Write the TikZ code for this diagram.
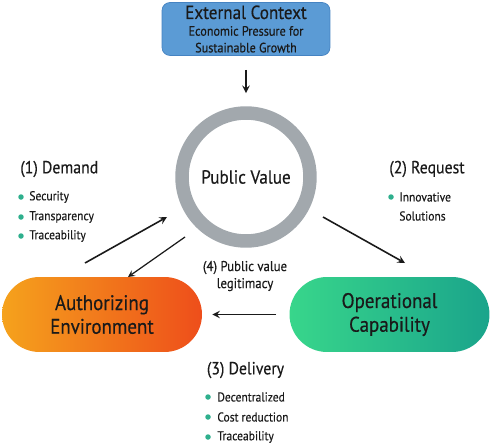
\documentclass[tikz,border=0pt]{standalone}
\usepackage{fontspec}
\setmainfont{PT Sans}[FakeStretch=0.9, FakeBold=0.4]

\definecolor{ctxblue}{HTML}{5B9BD5}
\definecolor{ctxedge}{HTML}{4583C2}
\definecolor{ringgray}{HTML}{A2A8AD}
\definecolor{authleft}{HTML}{F5A21C}
\definecolor{authright}{HTML}{EE4E1B}
\definecolor{opsleft}{HTML}{38D68B}
\definecolor{opsright}{HTML}{1AA48B}
\definecolor{dotgreen}{HTML}{2EAF8D}
\definecolor{ink}{HTML}{1A1A1A}

\tikzset{
  pill/.style={minimum width=4cm, minimum height=1.5cm, rounded corners=0.75cm,
    align=center, text=ink, font=\fontsize{12}{13.5}\selectfont},
  flow/.style={line width=0.9pt, ink, ->, >=stealth},
  head/.style={anchor=west, text=ink, inner sep=0pt, font=\fontsize{10}{12}\selectfont},
  item/.style={anchor=west, text=ink, inner sep=0pt, font=\fontsize{7.3}{9}\selectfont},
}

\begin{document}
\begin{tikzpicture}[x=0.02cm, y=-0.02cm]

\useasboundingbox (0,0) rectangle (500,446);

% top box
\node[fill=ctxblue, draw=ctxedge, rounded corners=0.16cm, minimum width=3.36cm,
      minimum height=1.06cm, align=center, text=ink, inner sep=0pt] (ctx) at (246,29)
  {{\fontsize{10.8}{12}\selectfont External Context}\\[-2.5pt]
   {\fontsize{7.7}{9}\selectfont Economic Pressure for}\\[-2.5pt]
   {\fontsize{7.7}{9}\selectfont Sustainable Growth}};

% ring
\node[circle, draw=ringgray, line width=0.27cm, minimum size=2.56cm, text=ink,
      font=\fontsize{10.8}{13}\selectfont] (pv) at (246,177) {Public Value};

% the two pills
\node[pill, left color=authleft, right color=authright] (auth) at (102,314.5)
  {Authorizing\\Environment};
\node[pill, left color=opsleft, right color=opsright] (ops) at (389.5,314.5)
  {Operational\\Capability};

% arrows
\coordinate (a1) at (85,263);
\coordinate (a2) at (167,217);
\coordinate (b1) at (185,237);
\coordinate (b2) at (128,277);
\coordinate (c1) at (323,217);
\coordinate (c2) at (405,263);

\draw[flow, shorten <=8pt, shorten >=7.5pt] (ctx) -- (pv);
\draw[flow] (a1) -- (a2);
\draw[flow, line width=0.7pt] (b1) -- (b2);
\draw[flow] (c1) -- (c2);
\draw[flow, shorten <=7.4pt, shorten >=5.7pt] (ops) -- (auth);

% labels
\node[head] (demand) at (20,169) {(1) Demand};
\node[head] (request) at (389,169) {(2) Request};
\node[head, anchor=center] (delivery) at (245.5,370) {(3) Delivery};
\node[item, anchor=center, font=\fontsize{8.1}{9.7}\selectfont, align=center] (legit) at (245,276)
  {(4) Public value\\legitimacy};

\foreach \y/\t in {197/Security, 217/Transparency, 236/Traceability}
{
    \fill[dotgreen] (21,\y) circle (0.055cm);
    \node[item] (d\y) at (29,\y) {\t};
}

\fill[dotgreen] (391,197) circle (0.055cm);
\node[item] (r1) at (399,197) {Innovative};
\node[item] (r2) at (399,216) {Solutions};

\foreach \y/\t in {397/Decentralized, 417/Cost reduction, 437/Traceability}
{
    \fill[dotgreen] (208,\y) circle (0.055cm);
    \node[item] (v\y) at (217,\y) {\t};
}

\end{tikzpicture}
\end{document}
